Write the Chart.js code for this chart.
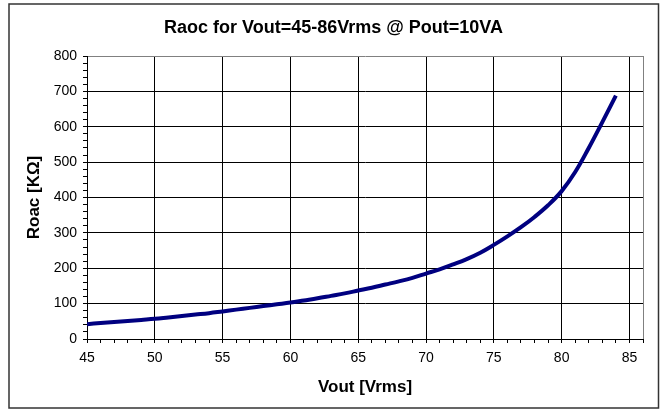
<!DOCTYPE html>
<html>
<head>
<meta charset="utf-8">
<script src="https://cdn.jsdelivr.net/npm/chart.js@4.4.0/dist/chart.umd.min.js"></script>
<style>
  html, body { margin: 0; padding: 0; background: #fff; }
  #wrap { width: 660px; height: 409px; position: relative; }
</style>
</head>
<body>
<div id="wrap"><canvas id="roacChart"></canvas></div>
<script>
// values
var vout = [45, 46, 47, 48, 49, 50, 51, 52, 53, 54, 55, 56, 57, 58, 59, 60, 61, 62, 63, 64,
            65, 66, 67, 68, 69, 70, 71, 72, 73, 74, 75, 76, 77, 78, 79, 80, 81, 82, 83, 84];
var roac = [42, 45, 48, 51, 54, 57, 61, 65, 69, 73, 78, 83, 88, 93, 98, 103, 109, 115, 122, 129,
            137, 145, 154, 163, 173, 185, 197, 211, 226, 244, 266, 290, 316, 345, 378, 418, 472, 540, 613, 688];
var xTicks = [45, 50, 55, 60, 65, 70, 75, 80, 85];
var yTicks = [0, 100, 200, 300, 400, 500, 600, 700, 800];

var chartTitle = 'Raoc for Vout=45-86Vrms @ Pout=10VA';
var xLabel = 'Vout [Vrms]';
var yLabel = 'Roac [K\u03A9]';

var points = vout.map(function (v, i) { return { x: v, y: roac[i] }; });
var fontFamily = '"Liberation Sans", Arial, sans-serif';

// white background + outer frame like the spreadsheet chart
const framePlugin = {
    id: 'frame',
    beforeDraw: function (chart) {
        var c = chart.ctx;
        c.save();
        c.fillStyle = '#fff';
        c.fillRect(0, 0, chart.width, chart.height);
        c.strokeStyle = '#333';
        c.lineWidth = 1.5;
        c.strokeRect(9, 4, 649.5, 404);
        c.restore();
    }
};

const config = {
    type: 'line',
    data: {
        datasets: [{
            label: 'Roac',
            data: points,
            borderColor: '#000080',
            borderWidth: 4,
            pointRadius: 0,
            fill: false,
            tension: 0.4
        }]
    },
    options: {
        responsive: false,
        animation: false,
        layout: { padding: { left: 24, right: 17, top: 0, bottom: 0 } },
        plugins: {
            legend: { display: false },
            tooltip: { enabled: false },
            title: {
                display: true,
                text: chartTitle,
                color: '#000',
                font: { family: fontFamily, size: 18, weight: 'bold', lineHeight: 1.2 },
                padding: { top: 17, bottom: 17.4 }
            }
        },
        scales: {
            x: {
                type: 'linear',
                min: 45,
                max: 86,
                afterFit: function (s) { s.height = 70; },
                ticks: {
                    stepSize: 1,
                    autoSkip: false,
                    maxRotation: 0,
                    padding: 7,
                    color: '#000',
                    font: { family: fontFamily, size: 14 },
                    callback: function (v) { return xTicks.indexOf(v) >= 0 ? String(v) : ''; }
                },
                grid: {
                    drawTicks: true,
                    tickLength: 4,
                    tickColor: '#000',
                    lineWidth: 1,
                    color: function (ctx) {
                        var v = ctx.tick ? ctx.tick.value : null;
                        if (v === 86) return '#808080';
                        return xTicks.indexOf(v) >= 0 ? '#000' : 'rgba(0,0,0,0)';
                    }
                },
                border: { color: '#000', width: 1 },
                title: {
                    display: true,
                    text: xLabel,
                    color: '#000',
                    font: { family: fontFamily, size: 17, weight: 'bold', lineHeight: 1.2 },
                    padding: { top: 0, bottom: 11 }
                }
            },
            y: {
                min: 0,
                max: 800,
                afterFit: function (s) { s.width = 63; },
                ticks: {
                    stepSize: 20,
                    autoSkip: false,
                    padding: 6,
                    color: '#000',
                    font: { family: fontFamily, size: 14 },
                    callback: function (v) { return yTicks.indexOf(v) >= 0 ? String(v) : ''; }
                },
                grid: {
                    drawTicks: true,
                    tickLength: 4,
                    tickColor: '#000',
                    lineWidth: 1,
                    color: function (ctx) {
                        var v = ctx.tick ? ctx.tick.value : null;
                        if (v === 800) return '#808080';
                        return yTicks.indexOf(v) >= 0 ? '#000' : 'rgba(0,0,0,0)';
                    }
                },
                border: { color: '#000', width: 1 },
                title: {
                    display: true,
                    text: yLabel,
                    color: '#000',
                    font: { family: fontFamily, size: 17, weight: 'bold', lineHeight: 1.2 },
                    padding: { top: 0, bottom: 0 }
                }
            }
        }
    },
    plugins: [framePlugin]
};

var canvas = document.getElementById('roacChart');
canvas.width = 660;
canvas.height = 409;
var myChart = new Chart(canvas, config);
</script>
</body>
</html>
